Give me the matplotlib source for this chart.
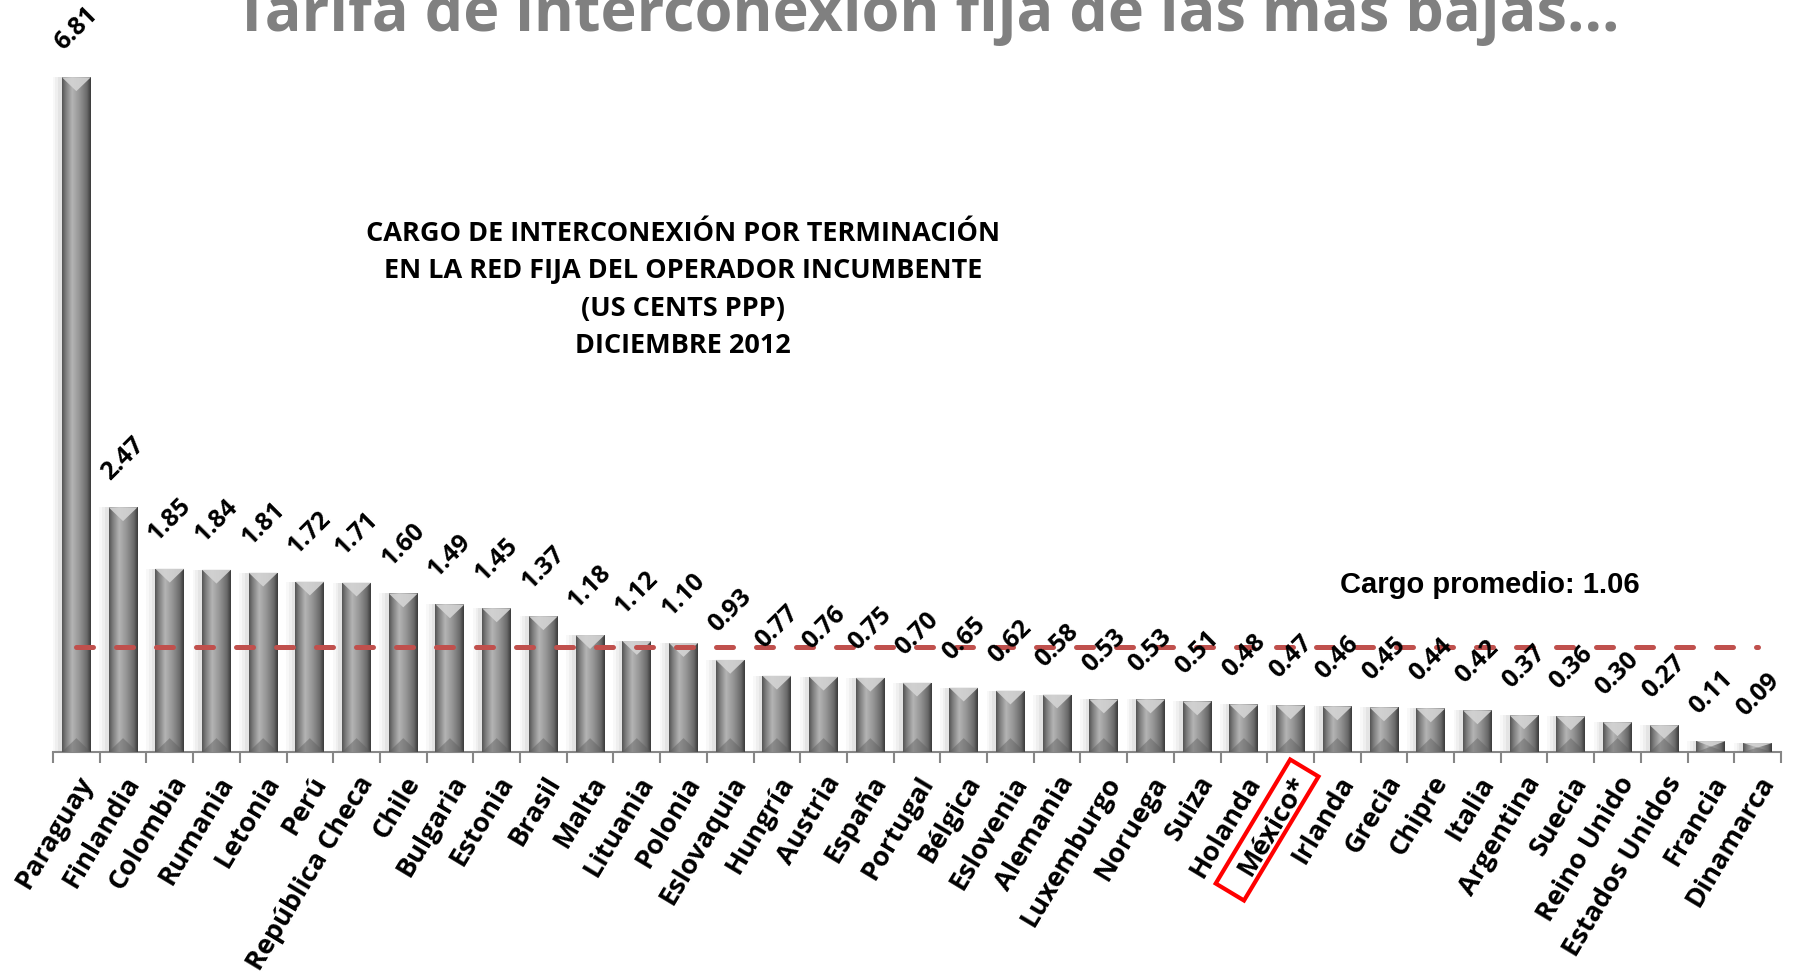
import matplotlib.pyplot as plt
import numpy as np
from matplotlib.colors import LinearSegmentedColormap
from matplotlib.patches import Polygon, Rectangle
from matplotlib.transforms import Affine2D

paises = ["Paraguay", "Finlandia", "Colombia", "Rumania", "Letonia", "Perú",
          "República Checa", "Chile", "Bulgaria", "Estonia", "Brasil", "Malta",
          "Lituania", "Polonia", "Eslovaquia", "Hungría", "Austria", "España",
          "Portugal", "Bélgica", "Eslovenia", "Alemania", "Luxemburgo", "Noruega",
          "Suiza", "Holanda", "México*", "Irlanda", "Grecia", "Chipre", "Italia",
          "Argentina", "Suecia", "Reino Unido", "Estados Unidos", "Francia",
          "Dinamarca"]
cargos = [6.81, 2.47, 1.85, 1.84, 1.81, 1.72, 1.71, 1.60, 1.49, 1.45, 1.37,
          1.18, 1.12, 1.10, 0.93, 0.77, 0.76, 0.75, 0.70, 0.65, 0.62, 0.58,
          0.53, 0.53, 0.51, 0.48, 0.47, 0.46, 0.45, 0.44, 0.42, 0.37, 0.36,
          0.30, 0.27, 0.11, 0.09]
promedio = 1.06
resaltado = "México*"

titulo = "Tarifa de interconexión fija de las más bajas..."
subtitulo = ("CARGO DE INTERCONEXIÓN POR TERMINACIÓN\n"
             "EN LA RED FIJA DEL OPERADOR INCUMBENTE\n"
             "(US CENTS PPP)\n"
             "DICIEMBRE 2012")

fuente = ["Open Sans", "DejaVu Sans"]
giro = 59

fig = plt.figure(figsize=(17.93, 9.77), dpi=100)
ax = fig.add_axes([53 / 1793, 1 - 752 / 977, (1781 - 53) / 1793, 752 / 977])

x = np.arange(len(paises))
ancho = 0.62

# degradado horizontal de las barras
cmap = LinearSegmentedColormap.from_list(
    "gris", [(0, "#555555"), (0.12, "#7c7c7c"), (0.35, "#b4b4b4"),
             (0.6, "#969696"), (0.86, "#6c6c6c"), (1, "#3c3c3c")])
degradado = np.linspace(0, 1, 64).reshape(1, -1)

# sombra suave
for k, a in [(0.2, 0.05), (0.14, 0.07), (0.08, 0.09)]:
    ax.bar(x - k, cargos, width=ancho, color="#808080", alpha=a,
           linewidth=0, zorder=1)

barras = ax.bar(x, cargos, width=ancho, color="#8c8c8c", linewidth=0, zorder=2)
for xi, v, b in zip(x, cargos, barras):
    im = ax.imshow(degradado, cmap=cmap, extent=[xi - ancho / 2, xi + ancho / 2, 0, v],
                   aspect="auto", zorder=3, interpolation="bilinear")
    im.set_clip_path(b)
    d = min(0.14, v / 2)
    ax.add_patch(Polygon([[xi - ancho / 2, v], [xi + ancho / 2, v], [xi, v - d]],
                         closed=True, facecolor="#d4d4d4", edgecolor="none",
                         alpha=0.9, zorder=4))
    ax.add_patch(Polygon([[xi - ancho / 2, 0], [xi + ancho / 2, 0], [xi, d]],
                         closed=True, facecolor="#5e5e5e", edgecolor="none",
                         alpha=0.45, zorder=4))
    ax.annotate(f"{v:.2f}", (xi, v), xytext=(0, 35), textcoords="offset points",
                ha="center", va="center", rotation=45, fontsize=18,
                fontweight="bold", family=fuente, zorder=6)

# linea de cargo promedio
ax.plot([x[0], x[-1]], [promedio, promedio], color="#C0504D", lw=3.6,
        dashes=(3.4, 4.6), dash_capstyle="round", zorder=5)

ax.set_xlim(-0.5, len(paises) - 0.5)
ax.set_ylim(0, 7.59)
for s in ["top", "right", "left"]:
    ax.spines[s].set_visible(False)
ax.spines["bottom"].set_color("#868686")
ax.spines["bottom"].set_linewidth(1.5)
ax.set_yticks([])

ax.set_xticks(x)
ax.set_xticklabels(paises, rotation=giro, ha="right", va="top",
                   rotation_mode="anchor", fontsize=19.5, fontweight="bold",
                   family=fuente)
ax.set_xticks(np.arange(len(paises) + 1) - 0.5, minor=True)
ax.tick_params(axis="x", which="major", length=0, pad=14)
ax.tick_params(axis="x", which="minor", length=8, width=1.5, color="#868686")

fig.text(0.517, 1 - 31 / 977, titulo, ha="center", va="baseline", fontsize=44,
         fontweight="bold", color="#808080", family=fuente)
fig.text(683 / 1793, 1 - 290 / 977, subtitulo, ha="center", va="center",
         fontsize=19.5, fontweight="bold", family=fuente, linespacing=1.58)
fig.text(1490 / 1793, 1 - 585 / 977, f"Cargo promedio: {promedio:.2f}",
         ha="center", va="center", fontsize=21, fontweight="bold",
         family="Liberation Sans")

# recuadro rojo alrededor de México
fig.canvas.draw()
rend = fig.canvas.get_renderer()
lbl = ax.get_xticklabels()[paises.index(resaltado)]
w, h, dsc = rend.get_text_width_height_descent(lbl.get_text(),
                                               lbl.get_fontproperties(), ismath=False)
ancla = lbl.get_transform().transform(lbl.get_position())
margen, alto = 17, 33
caja = Rectangle((-w - margen - 7, -h / 2 - alto / 2), w + 2 * margen, alto,
                 facecolor="none", edgecolor="#FF0000", linewidth=3,
                 transform=Affine2D().rotate_deg(giro).translate(*ancla))
fig.patches.append(caja)

fig.savefig("out.png", dpi=100)
